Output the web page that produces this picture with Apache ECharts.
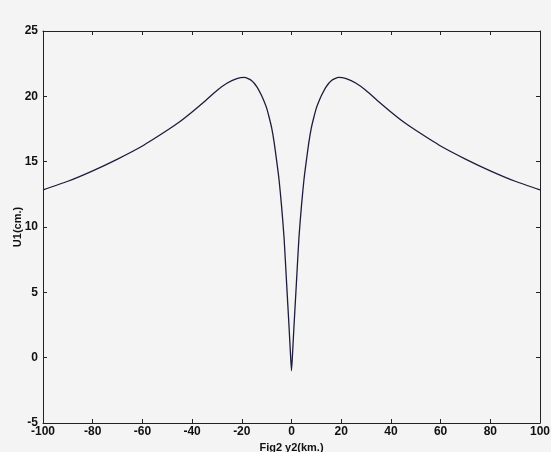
<!DOCTYPE html>
<html>
<head>
<meta charset="utf-8">
<script src="https://cdn.jsdelivr.net/npm/echarts@6/dist/echarts.min.js"></script>
<style>
  html, body { margin: 0; padding: 0; background: #f4f4f4; }
  #chart { width: 551px; height: 452px; }
</style>
</head>
<body>
<div id="chart"></div>
<script>
// distance along profile (km) and displacement U1 (cm)
const y2 = [-100, -90, -80, -70, -60, -50, -45, -40, -35, -30, -26, -22, -19, -16, -14, -12, -11, -10, -9, -8, -7, -6, -5, -4, -3, -2, -1, -0.5, 0,
            0.5, 1, 2, 3, 4, 5, 6, 7, 8, 9, 10, 11, 12, 14, 16, 19, 22, 26, 30, 35, 40, 45, 50, 60, 70, 80, 90, 100]
const u1 = [12.85, 13.5, 14.3, 15.2, 16.2, 17.4, 18.05, 18.8, 19.6, 20.45, 21.0, 21.35, 21.45, 21.2, 20.75, 20.05, 19.6, 19.1, 18.4, 17.6, 16.5, 15.1, 13.6, 11.6, 9.2, 5.8, 2.4, 0.6, -1,
            0.6, 2.4, 5.8, 9.2, 11.6, 13.6, 15.1, 16.5, 17.6, 18.4, 19.1, 19.6, 20.05, 20.75, 21.2, 21.45, 21.35, 21.0, 20.45, 19.6, 18.8, 18.05, 17.4, 16.2, 15.2, 14.3, 13.5, 12.85]
const xTicks = { min: -100, max: 100, step: 20 }
const yTicks = { min: -5, max: 25, step: 5 }

const chart = echarts.init(document.getElementById('chart'))
const font = { color: '#111', fontSize: 12, fontWeight: 'bold', fontFamily: 'Liberation Sans, Arial, sans-serif' }
const axisLine = { show: true, onZero: false, lineStyle: { color: '#222', width: 1 } }
const ticks = { show: true, inside: true, length: 4, lineStyle: { color: '#222' } }

let option = {
    backgroundColor: '#f4f4f4',
    animation: false,
    grid: { left: 43, right: 11, top: 31, bottom: 29, containLabel: false, outerBoundsMode: 'none' },
    xAxis: [{
        type: 'value',
        min: xTicks.min, max: xTicks.max, interval: xTicks.step,
        name: 'Fig2 y2(km.)',
        nameLocation: 'middle',
        nameGap: 19,
        nameTextStyle: Object.assign({}, font, { fontSize: 11 }),
        axisLine: axisLine,
        axisTick: ticks,
        axisLabel: Object.assign({ margin: 3 }, font),
        splitLine: { show: false }
    }, {
        type: 'value', position: 'top',
        min: xTicks.min, max: xTicks.max, interval: xTicks.step,
        axisLine: axisLine, axisTick: ticks,
        axisLabel: { show: false }, splitLine: { show: false }
    }],
    yAxis: [{
        type: 'value',
        min: yTicks.min, max: yTicks.max, interval: yTicks.step,
        name: 'U1(cm.)',
        nameLocation: 'middle',
        nameGap: 20,
        nameMoveOverlap: false,
        nameTextStyle: Object.assign({}, font, { fontSize: 11 }),
        axisLine: axisLine,
        axisTick: ticks,
        axisLabel: Object.assign({ margin: 5 }, font),
        splitLine: { show: false }
    }, {
        type: 'value', position: 'right',
        min: yTicks.min, max: yTicks.max, interval: yTicks.step,
        axisLine: axisLine, axisTick: ticks,
        axisLabel: { show: false }, splitLine: { show: false }
    }],
    series: [{
        type: 'line',
        data: y2.map((x, i) => [x, u1[i]]),
        smooth: 0.2,
        showSymbol: false,
        lineStyle: { color: '#1c1c3c', width: 1.3 }
    }]
}
chart.setOption(option)
</script>
</body>
</html>
